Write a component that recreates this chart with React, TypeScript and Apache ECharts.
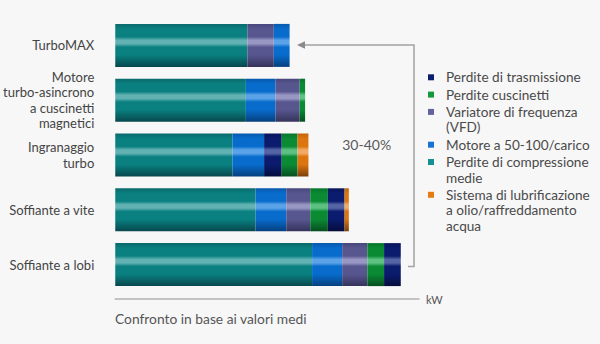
import React, { useEffect, useRef } from "react";
import * as echarts from "echarts";

const categories = [
  "TurboMAX",
  "Motore\nturbo-asincrono\na cuscinetti\nmagnetici",
  "Ingranaggio\nturbo",
  "Soffiante a vite",
  "Soffiante a lobi",
];

// values per component (kW, relative units) per category
const compressione = [43.5, 43.0, 38.6, 46.2, 64.8];
const motore = [5.2, 9.8, 10.4, 10.1, 9.9];
const vfd = [8.7, 7.9, 0, 7.9, 8.3];
const cuscinetti = [0, 1.8, 5.2, 5.8, 5.5];
const trasmissione = [0, 0, 5.8, 5.5, 5.5];
const lubrificazione = [0, 0, 3.6, 1.4, 0];

// stacking order of the segments in each bar
const segmentOrder = [
  ["compressione", "vfd", "motore"],
  ["compressione", "motore", "vfd", "cuscinetti"],
  ["compressione", "motore", "trasmissione", "cuscinetti", "lubrificazione"],
  ["compressione", "motore", "vfd", "cuscinetti", "trasmissione", "lubrificazione"],
  ["compressione", "motore", "vfd", "cuscinetti", "trasmissione"],
];

const legendOrder = ["trasmissione", "cuscinetti", "vfd", "motore", "compressione", "lubrificazione"];

const labels: Record<string, string> = {
  trasmissione: "Perdite di trasmissione",
  cuscinetti: "Perdite cuscinetti",
  vfd: "Variatore di frequenza\n(VFD)",
  motore: "Motore a 50-100/carico",
  compressione: "Perdite di compressione\nmedie",
  lubrificazione: "Sistema di lubrificazione\na olio/raffreddamento\nacqua",
};

const values: Record<string, number[]> = {
  compressione, motore, vfd, cuscinetti, trasmissione, lubrificazione,
};

const palette: Record<string, { flat: string; top: string; base: string; hi: string; bottom: string }> = {
  compressione: { flat: "#13908f", top: "#0a6a6c", base: "#0a8080", hi: "#62b2b3", bottom: "#07474c" },
  motore: { flat: "#1673d6", top: "#0759ad", base: "#086ccc", hi: "#5ba3e8", bottom: "#053f7e" },
  vfd: { flat: "#63629f", top: "#48467c", base: "#58568f", hi: "#9896c3", bottom: "#35335a" },
  cuscinetti: { flat: "#14983b", top: "#08742b", base: "#0b8a34", hi: "#5dc182", bottom: "#064e1f" },
  trasmissione: { flat: "#0b1f6e", top: "#08165a", base: "#0b1b6e", hi: "#5564a4", bottom: "#050d3c" },
  lubrificazione: { flat: "#e67b16", top: "#c2630c", base: "#dc740f", hi: "#f2a964", bottom: "#7a3f0c" },
};

const FONT = "Lato, 'Open Sans', sans-serif";

function gradient(key: string) {
  const p = palette[key];
  return new echarts.graphic.LinearGradient(0, 0, 0, 1, [
    { offset: 0, color: p.top },
    { offset: 0.12, color: p.base },
    { offset: 0.3, color: p.base },
    { offset: 0.38, color: p.hi },
    { offset: 0.46, color: p.hi },
    { offset: 0.54, color: p.base },
    { offset: 0.72, color: p.base },
    { offset: 1, color: p.bottom },
  ]);
}

function buildSeries() {
  const maxSlots = Math.max(...segmentOrder.map((o) => o.length));
  const keys = Object.keys(values);
  const series: any[] = [];
  for (let s = 0; s < maxSlots; s++) {
    for (const key of keys) {
      const used = segmentOrder.some((o) => o[s] === key);
      if (!used) continue;
      series.push({
        name: labels[key],
        type: "bar",
        stack: "total",
        barWidth: 43,
        data: categories.map((_, i) => (segmentOrder[i][s] === key ? values[key][i] : "-")),
        itemStyle: { color: gradient(key) },
        emphasis: { disabled: true },
      });
    }
  }
  return series;
}

function buildLegend() {
  const els: any[] = [];
  const lineH = 15.5;
  let y = 77.3;
  for (const key of legendOrder) {
    const text = labels[key];
    const lines = text.split("\n").length;
    els.push({
      type: "rect",
      shape: { x: 428, y: y - 3, width: 6, height: 6 },
      style: { fill: palette[key].flat },
    });
    els.push({
      type: "text",
      x: 446,
      y: y - lineH / 2,
      style: {
        text,
        font: `13.6px ${FONT}`,
        lineHeight: lineH,
        fill: "#4a4a4a",
        verticalAlign: "top",
        align: "left",
      },
    });
    y += (lines - 1) * lineH + 17.3;
  }
  return els;
}

export default function App() {
  const ref = useRef<HTMLDivElement>(null);
  useEffect(() => {
    if (!ref.current) return;
    const chart = echarts.init(ref.current, undefined, { renderer: "svg" });
    chart.setOption({
      animation: false,
      backgroundColor: "#f7f7f7",
      title: {
        text: "Confronto in base ai valori medi",
        left: 115,
        top: 311,
        padding: 0,
        textStyle: { fontFamily: FONT, fontSize: 13.8, fontWeight: "normal", color: "#555" },
      },
      grid: { left: 114, right: 181, top: 18, bottom: 52, containLabel: false },
      xAxis: {
        type: "value",
        min: 0,
        max: 100,
        offset: 7,
        name: "kW",
        nameLocation: "end",
        nameGap: 7,
        nameTextStyle: { fontFamily: FONT, fontSize: 11, color: "#555", verticalAlign: "middle" },
        axisLine: { show: true, lineStyle: { color: "#b3b3b3", width: 1.5 } },
        axisTick: { show: false },
        axisLabel: { show: false },
        splitLine: { show: false },
      },
      yAxis: {
        type: "category",
        inverse: true,
        data: categories,
        axisLine: { show: false },
        axisTick: { show: false },
        axisLabel: {
          margin: 21,
          fontFamily: FONT,
          fontSize: 13,
          lineHeight: 15.5,
          color: "#444",
          align: "right",
        },
      },
      series: buildSeries(),
      graphic: [
        {
          type: "polyline",
          shape: { points: [[304, 45], [414, 45], [414, 266.5], [408, 266.5]] },
          style: { stroke: "#a3a3a3", lineWidth: 1.5, fill: null },
        },
        {
          type: "polygon",
          shape: { points: [[297, 45], [305, 41.3], [305, 48.7]] },
          style: { fill: "#8a8a8a" },
        },
        {
          type: "text",
          x: 366.7,
          y: 144,
          style: {
            text: "30-40%",
            font: `14px ${FONT}`,
            fill: "#5a5a5a",
            align: "center",
            verticalAlign: "middle",
          },
        },
        ...buildLegend(),
      ],
    });
    return () => chart.dispose();
  }, []);
  return (
    <div
      ref={ref}
      style={{ position: "absolute", left: 0, top: 0, width: 600, height: 344 }}
    />
  );
}
